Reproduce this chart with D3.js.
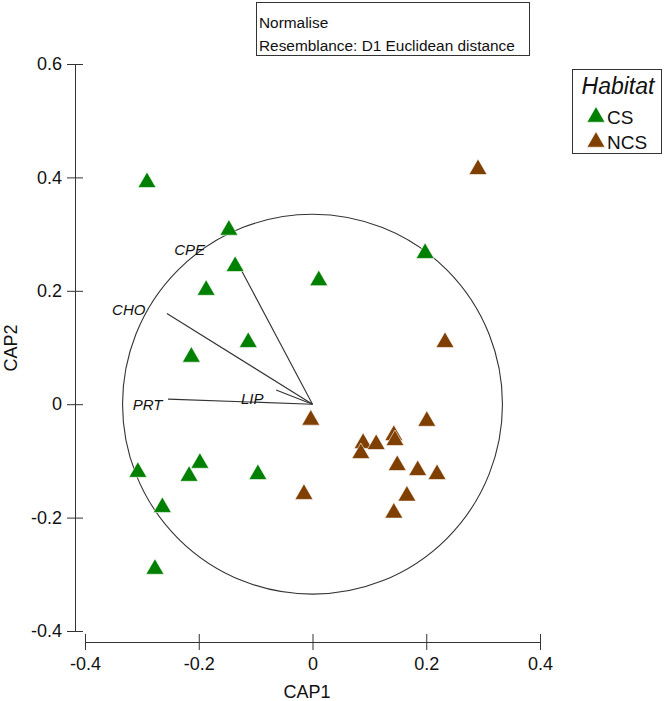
<!DOCTYPE html>
<html>
<head>
<meta charset="utf-8">
<script src="https://cdn.jsdelivr.net/npm/d3@7"></script>
<style>
  body { margin: 0; background: #fff; }
  svg { display: block; font-family: "Liberation Sans", Arial, sans-serif; }
</style>
</head>
<body>
<svg id="chart" width="666" height="701"></svg>
<script>
// ---- data ----
const groups = ["CS", "NCS"];
const groupColors = ["#008000", "#7f3f00"];
const csCAP1 = [-0.291, -0.147, -0.136, -0.187, 0.011, 0.198, -0.113, -0.213, -0.307, -0.217, -0.198, -0.096, -0.264, -0.277];
const csCAP2 = [0.393, 0.309, 0.245, 0.203, 0.220, 0.268, 0.111, 0.085, -0.118, -0.125, -0.102, -0.122, -0.180, -0.289];
const ncsCAP1 = [-0.003, 0.089, 0.112, 0.085, 0.143, 0.145, 0.201, 0.149, 0.185, 0.219, -0.015, 0.166, 0.143, 0.291, 0.233];
const ncsCAP2 = [-0.026, -0.067, -0.069, -0.085, -0.053, -0.062, -0.028, -0.106, -0.115, -0.122, -0.157, -0.160, -0.190, 0.416, 0.111];
const vecNames = ["CPE", "CHO", "PRT", "LIP"];
const vecCAP1 = [-0.136, -0.256, -0.254, -0.064];
const vecCAP2 = [0.257, 0.160, 0.009, 0.025];
const vecLabelCAP1 = [-0.216, -0.323, -0.290, -0.106];
const vecLabelCAP2 = [0.273, 0.166, -0.001, 0.010];
const circleRadius = 0.334;
const xTicks = [-0.4, -0.2, 0, 0.2, 0.4];
const yTicks = [-0.4, -0.2, 0, 0.2, 0.4, 0.6];
const infoLines = ["Normalise", "Resemblance: D1 Euclidean distance"];
const legendTitle = "Habitat";

// ---- scales ----
const svg = d3.select("#chart");
const x = d3.scaleLinear().domain([-0.4, 0.4]).range([85, 540]);
const y = d3.scaleLinear().domain([-0.4, 0.6]).range([631, 64]);
const axisColor = "#333";
const fmt = d => d === 0 ? "0" : d.toFixed(1);

// ---- axes ----
const yAxis = svg.append("g").attr("transform", "translate(75,0)")
  .call(d3.axisLeft(y).tickValues(yTicks).tickSize(8).tickSizeOuter(0).tickPadding(5).tickFormat(fmt));
yAxis.select(".domain").attr("stroke", axisColor);
yAxis.selectAll(".tick line").attr("x1", 8).attr("stroke", axisColor);
yAxis.selectAll(".tick text").attr("font-size", 18).attr("fill", "#111").attr("font-family", "Liberation Sans, Arial, sans-serif");

const xAxis = svg.append("g").attr("transform", "translate(0,642)")
  .call(d3.axisBottom(x).tickValues(xTicks).tickSize(8).tickSizeOuter(0).tickPadding(7).tickFormat(fmt));
xAxis.select(".domain").attr("stroke", axisColor);
xAxis.selectAll(".tick line").attr("y1", -8).attr("stroke", axisColor);
xAxis.selectAll(".tick text").attr("font-size", 18).attr("fill", "#111").attr("font-family", "Liberation Sans, Arial, sans-serif");

svg.append("text").attr("x", 307).attr("y", 698).attr("text-anchor", "middle")
  .attr("font-size", 18).attr("fill", "#111").text("CAP1");
svg.append("text").attr("transform", "translate(17,348) rotate(-90)").attr("text-anchor", "middle")
  .attr("font-size", 18).attr("fill", "#111").text("CAP2");

// ---- circle ----
svg.append("circle").attr("cx", x(0)).attr("cy", y(0))
  .attr("r", x(circleRadius) - x(0))
  .attr("fill", "none").attr("stroke", "#333").attr("stroke-width", 1.1);

// ---- vectors ----
const vecs = vecNames.map((n, i) => ({ n, vx: vecCAP1[i], vy: vecCAP2[i], lx: vecLabelCAP1[i], ly: vecLabelCAP2[i] }));
svg.append("g").selectAll("line").data(vecs).join("line")
  .attr("x1", x(0)).attr("y1", y(0))
  .attr("x2", d => x(d.vx)).attr("y2", d => y(d.vy))
  .attr("stroke", "#333").attr("stroke-width", 1.1);
svg.append("g").selectAll("text").data(vecs).join("text")
  .attr("x", d => x(d.lx)).attr("y", d => y(d.ly))
  .attr("text-anchor", "middle").attr("dy", "0.35em")
  .attr("font-size", 15).attr("font-style", "italic").attr("fill", "#111")
  .text(d => d.n);

// ---- points ----
const pts = [
  ...csCAP1.map((v, i) => ({ g: 0, cx: v, cy: csCAP2[i] })),
  ...ncsCAP1.map((v, i) => ({ g: 1, cx: v, cy: ncsCAP2[i] }))
];
const tri = d3.symbol().type(d3.symbolTriangle).size(140);
svg.append("g").selectAll("path").data(pts).join("path")
  .attr("d", tri)
  .attr("transform", d => `translate(${x(d.cx)},${y(d.cy) + 1})`)
  .attr("fill", d => groupColors[d.g])
  .attr("stroke", "#fff").attr("stroke-width", 0.6);

// ---- info box ----
svg.append("rect").attr("x", 256.5).attr("y", 2.5).attr("width", 273).attr("height", 53)
  .attr("fill", "#fff").attr("stroke", "#333").attr("stroke-width", 1);
svg.append("g").selectAll("text").data(infoLines).join("text")
  .attr("x", 259).attr("y", (d, i) => 28 + i * 23)
  .attr("font-size", 15.4).attr("fill", "#111").text(d => d);

// ---- legend ----
const lg = svg.append("g");
lg.append("rect").attr("x", 572.5).attr("y", 69.5).attr("width", 89).attr("height", 84)
  .attr("fill", "#fff").attr("stroke", "#333").attr("stroke-width", 1);
lg.append("text").attr("x", 618).attr("y", 94).attr("text-anchor", "middle")
  .attr("font-size", 23).attr("font-style", "italic").attr("fill", "#111").text(legendTitle);
groups.forEach((g, i) => {
  lg.append("path").attr("d", tri)
    .attr("transform", `translate(596,${117 + i * 25})`)
    .attr("fill", groupColors[i]).attr("stroke", "#fff").attr("stroke-width", 0.6);
  lg.append("text").attr("x", 607).attr("y", 124 + i * 25)
    .attr("font-size", 19).attr("fill", "#111").text(g);
});
</script>
</body>
</html>
